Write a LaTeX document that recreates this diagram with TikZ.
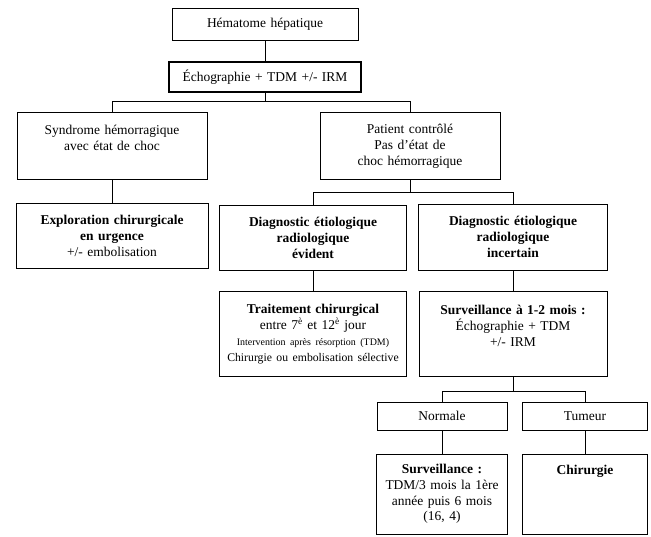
\documentclass[tikz,border=0pt]{standalone}
\usepackage{fontspec}
\setmainfont{Liberation Serif}
\begin{document}
\begin{tikzpicture}[x=0.03cm,y=-0.03cm,
    box/.style={draw,line width=0.7pt,align=center,inner xsep=0.15cm,inner ysep=2pt,
      font=\fontsize{11.5}{13.5}\selectfont},
    thickbox/.style={box,line width=1.6pt},
    wire/.style={line width=0.6pt}]
  \useasboundingbox (0,0) rectangle (651,536);
  \node[box,text width=5.28cm,minimum height=0.96cm] (hem) at (265,24) {Hématome hépatique};
  \node[thickbox,text width=5.46cm,minimum height=0.9cm] (echo) at (265,77) {Échographie + TDM +/- IRM};
  \node[box,text width=5.4cm,minimum height=2.01cm] (synd) at (112,146)
    {Syndrome hémorragique\\avec état de choc\\~};
  \node[box,text width=5.1cm,minimum height=2.01cm] (patient) at (410,146)
    {Patient contrôlé\\Pas d'état de\\choc hémorragique};
  \node[box,text width=5.46cm,minimum height=1.95cm] (explo) at (112,236)
    {\textbf{Exploration chirurgicale}\\\textbf{en urgence}\\+/- embolisation};
  \node[box,text width=5.31cm,minimum height=1.95cm] (evid) at (313,238)
    {\textbf{Diagnostic étiologique}\\\textbf{radiologique}\\\textbf{évident}};
  \node[box,text width=5.37cm,minimum height=1.98cm] (incert) at (513,237)
    {\textbf{Diagnostic étiologique}\\\textbf{radiologique}\\\textbf{incertain}};
  \node[box,text width=5.31cm,minimum height=2.55cm] (trait) at (313,334)
    {\textbf{Traitement chirurgical}\\entre 7\textsuperscript{è} et 12\textsuperscript{è} jour\\
     {\fontsize{8.5}{11}\selectfont Intervention après résorption (TDM)}\\
     \mbox{\fontsize{10}{13.5}\selectfont Chirurgie ou embolisation sélective}};
  \node[box,text width=5.34cm,minimum height=2.55cm] (surv1) at (513,334)
    {\textbf{Surveillance à 1-2 mois :}\\Échographie + TDM\\+/- IRM\\~};
  \node[box,text width=3.6cm,minimum height=0.84cm] (normale) at (442,416) {Normale};
  \node[box,text width=3.45cm,minimum height=0.84cm] (tumeur) at (585,416) {Tumeur};
  \node[box,text width=3.63cm,minimum height=2.4cm] (surv2) at (442,494)
    {\textbf{Surveillance :}\\TDM/3 mois la 1ère\\année puis 6 mois\\(16, 4)};
  \node[box,text width=3.45cm,minimum height=2.4cm] (chir) at (585,494)
    {\textbf{Chirurgie}\\~\\~\\~};
  \coordinate (j1) at (265,101);
  \coordinate (j2) at (410,192);
  \coordinate (j3) at (513,391);
  \draw[wire] (hem) -- (echo);
  \draw[wire] (echo) -- (j1);
  \draw[wire] (j1) -| (synd);
  \draw[wire] (j1) -| (patient);
  \draw[wire] (synd) -- (explo);
  \draw[wire] (patient) -- (j2);
  \draw[wire] (j2) -| (evid);
  \draw[wire] (j2) -| (incert);
  \draw[wire] (evid) -- (trait);
  \draw[wire] (incert) -- (surv1);
  \draw[wire] (surv1) -- (j3);
  \draw[wire] (j3) -| (normale);
  \draw[wire] (j3) -| (tumeur);
  \draw[wire] (normale) -- (surv2);
  \draw[wire] (tumeur) -- (chir);
\end{tikzpicture}
\end{document}
